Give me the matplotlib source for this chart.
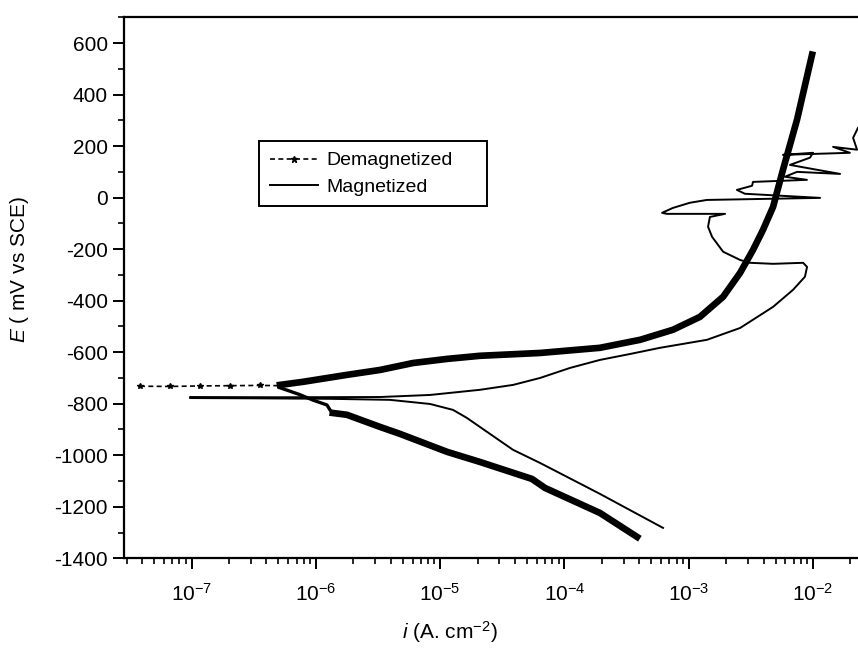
import matplotlib
matplotlib.use("Agg")
import matplotlib.pyplot as plt
from matplotlib.lines import Line2D
from matplotlib.ticker import LogLocator, MultipleLocator, NullFormatter

plt.rcParams['font.family'] = ['Liberation Sans', 'DejaVu Sans']
plt.rcParams['mathtext.fontset'] = 'custom'
plt.rcParams['mathtext.rm'] = 'Liberation Sans'
plt.rcParams['mathtext.it'] = 'Liberation Sans:italic'
plt.rcParams['mathtext.default'] = 'regular'
plt.rcParams['axes.unicode_minus'] = False

# Demagnetized sample: current density (A/cm2) and potential (mV vs SCE)
demag_ecorr_i = [3.85e-8, 6.71e-8, 1.17e-7, 2.04e-7, 3.56e-7, 5.15e-7]
demag_ecorr_E = [-732, -733, -731, -730, -729, -730]

demag_anod_i = [5.15e-7, 7.89e-7, 1.78e-6, 3.28e-6, 6.05e-6, 1.14e-5, 2.09e-5,
                6.37e-5, 1.93e-4, 4.06e-4, 7.46e-4, 1.23e-3, 1.89e-3, 2.59e-3,
                3.29e-3, 3.96e-3, 4.77e-3, 5.73e-3, 7.43e-3, 9.82e-3]
demag_anod_E = [-727, -715, -688, -669, -642, -626, -614, -603, -583, -552,
                -513, -463, -385, -292, -203, -125, -36, 108, 302, 555]

demag_link_i = [5.15e-7, 7.46e-7, 9.48e-7, 1.23e-6, 1.30e-6, 1.37e-6]
demag_link_E = [-738, -765, -786, -805, -824, -836]

demag_cath_i = [1.37e-6, 1.78e-6, 3.28e-6, 4.75e-6, 1.14e-5, 2.09e-5, 5.48e-5,
                6.98e-5, 1.93e-4, 3.84e-4]
demag_cath_E = [-836, -843, -890, -917, -987, -1026, -1092, -1127, -1224, -1317]

# Magnetized sample: cathodic end -> Ecorr -> anodic and pitting region
mag_i = [6.21e-4, 1.93e-4, 6.37e-5, 3.86e-5, 2.38e-5, 1.64e-5, 1.27e-5, 8.30e-6,
         3.95e-6, 1.30e-6, 2.96e-7, 9.72e-8,
         9.72e-8, 5.15e-7, 3.28e-6, 8.30e-6, 2.09e-5, 3.86e-5, 6.37e-5, 1.11e-4,
         1.93e-4, 3.37e-4, 5.87e-4, 1.40e-3, 2.59e-3, 4.77e-3, 6.90e-3, 8.61e-3,
         8.95e-3, 8.32e-3, 4.77e-3, 3.11e-3, 2.59e-3, 1.89e-3, 1.54e-3, 1.43e-3,
         1.48e-3, 1.96e-3, 6.68e-4, 6.10e-4, 7.46e-4, 1.02e-3, 1.40e-3, 1.14e-2,
         2.83e-3, 2.44e-3, 3.23e-3, 3.29e-3, 8.93e-3, 5.94e-3, 7.43e-3, 1.65e-2,
         6.52e-3, 9.44e-3, 1.00e-2, 5.73e-3, 1.98e-2, 1.45e-2, 2.26e-2, 2.10e-2,
         2.30e-2, 3.16e-2]
mag_E = [-1282, -1150, -1030, -979, -909, -855, -824, -801,
         -785, -781, -779, -778,
         -774, -775, -774, -766, -746, -727, -700, -661,
         -630, -607, -583, -552, -506, -424, -358, -307,
         -269, -253, -257, -253, -242, -210, -152, -113,
         -75, -63, -63, -59, -40, -20, -9, -1,
         15, 30, 46, 61, 69, 81, 100, 92,
         127, 155, 174, 166, 174, 197, 186, 232,
         271, 322]

yticks = [-1400, -1200, -1000, -800, -600, -400, -200, 0, 200, 400, 600]

fig = plt.figure(figsize=(8.58, 6.5), dpi=100)
ax = fig.add_axes([0.1449, 0.1411, 0.8551, 0.8323])

ax.plot(demag_ecorr_i, demag_ecorr_E, color='black', lw=1.2,
        linestyle=(0, (3, 2)), marker='*', markersize=4)
ax.plot(demag_link_i, demag_link_E, color='black', lw=2.4,
        solid_joinstyle='round')
ax.plot(demag_anod_i, demag_anod_E, color='black', lw=4.8,
        solid_joinstyle='round')
ax.plot(demag_cath_i, demag_cath_E, color='black', lw=4.8,
        solid_joinstyle='round')
ax.plot(mag_i, mag_E, color='black', lw=1.4, solid_joinstyle='round')

ax.set_xscale('log')
ax.set_xlim(2.88e-8, 2.3e-2)
ax.set_ylim(-1400, 700)
ax.set_yticks(yticks)
ax.yaxis.set_minor_locator(MultipleLocator(100))
ax.xaxis.set_major_locator(LogLocator(base=10, numticks=20))
ax.xaxis.set_minor_locator(LogLocator(base=10, subs=range(2, 10), numticks=20))
ax.xaxis.set_minor_formatter(NullFormatter())

for side in ['left', 'bottom', 'top']:
    ax.spines[side].set_linewidth(1.6)
ax.spines['right'].set_visible(False)
ax.tick_params(which='major', direction='out', length=8, width=1.4, labelsize=15)
ax.tick_params(which='minor', direction='out', length=4, width=1.2)
ax.tick_params(axis='x', which='major', pad=10)
ax.tick_params(axis='y', which='major', pad=4)

ax.set_ylabel(r'$\mathit{E}$ ( mV vs SCE)', fontsize=15)
ax.yaxis.set_label_coords(-0.127, 0.533)
ax.set_xlabel(r'$\mathit{i}$ (A. cm$^{-2}$)', fontsize=15)
ax.xaxis.set_label_coords(0.444, -0.112)

handles = [Line2D([], [], color='black', lw=1.2, linestyle=(0, (3, 2)),
                  marker='*', markersize=5),
           Line2D([], [], color='black', lw=1.4)]
leg = ax.legend(handles, ['Demagnetized', 'Magnetized'], loc='upper left',
                bbox_to_anchor=(0.1836, 0.55, 0.3108, 0.2213), mode='expand',
                borderaxespad=0, fontsize=14, numpoints=1, handlelength=2.5,
                handletextpad=0.4, labelspacing=0.45, borderpad=0.55,
                fancybox=False, framealpha=1, edgecolor='black')
leg.get_frame().set_linewidth(1.4)

fig.savefig('out.png', dpi=100)
